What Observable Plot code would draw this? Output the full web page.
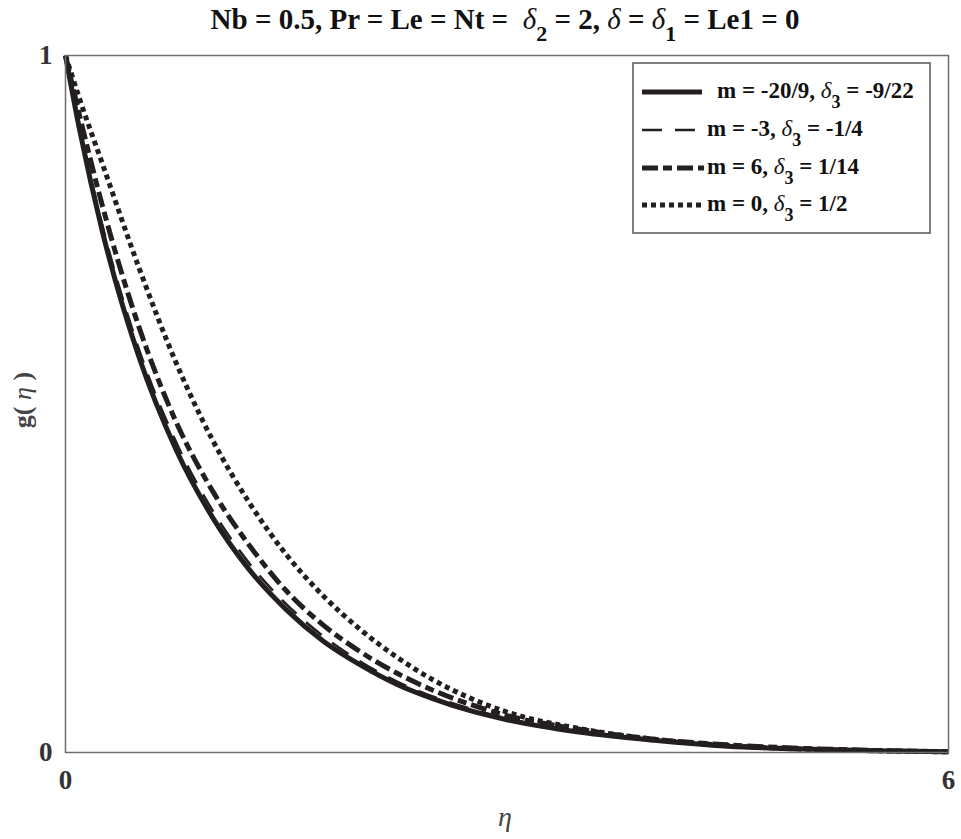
<!DOCTYPE html>
<html>
<head>
<meta charset="utf-8">
<script src="https://cdn.jsdelivr.net/npm/d3@7"></script>
<script src="https://cdn.jsdelivr.net/npm/@observablehq/plot@0.6"></script>
<style>
  html, body { margin: 0; padding: 0; background: #fff; }
  #chart svg { display: block; }
</style>
</head>
<body>
<div id="chart"></div>
<script>
// ---- data ----
const eta = [0, 0.1, 0.25, 0.5, 0.75, 1, 1.25, 1.5, 1.75, 2, 2.25, 2.5, 2.75, 3, 3.5, 4, 4.5, 5, 5.5, 6];
const gSolid   = [1, 0.889, 0.748, 0.567, 0.435, 0.337, 0.262, 0.205, 0.160, 0.126, 0.098, 0.077, 0.060, 0.047, 0.029, 0.0175, 0.009, 0.005, 0.0025, 0.001];
const gDashed  = [1, 0.893, 0.757, 0.578, 0.446, 0.347, 0.271, 0.213, 0.167, 0.131, 0.102, 0.080, 0.063, 0.049, 0.030, 0.018, 0.0095, 0.005, 0.0025, 0.001];
const gDashDot = [1, 0.910, 0.785, 0.610, 0.475, 0.375, 0.297, 0.232, 0.183, 0.145, 0.114, 0.089, 0.069, 0.053, 0.033, 0.019, 0.011, 0.006, 0.003, 0.001];
const gDotted  = [1, 0.935, 0.845, 0.695, 0.560, 0.448, 0.358, 0.284, 0.225, 0.177, 0.137, 0.104, 0.078, 0.058, 0.034, 0.019, 0.010, 0.005, 0.0025, 0.001];

const seriesNames = ["m = -20/9", "m = -3", "m = 6", "m = 0"];
const deltaLabels = ["-9/22", "-1/4", "1/14", "1/2"];
const seriesValues = [gSolid, gDashed, gDashDot, gDotted];
const xTicks = [0, 6];
const yTicks = [0, 1];

// styles per series
const dashes = [null, "20,13", "16,5,9,5", "5,4"];
const widths = [5, 2.5, 5, 5];
const ink = "#231f20";

const rows = seriesValues.map((vals, i) => eta.map((e, j) => ({eta: e, g: vals[j], s: i})));

const drawOrder = [3, 2, 0, 1];
const marks = drawOrder.map(i => Plot.line(rows[i], {
  x: "eta", y: "g", curve: "monotone-x",
  stroke: ink, strokeWidth: widths[i],
  strokeDasharray: dashes[i] || undefined,
  strokeLinecap: "butt", strokeLinejoin: "round"
}));

const svg = Plot.plot({
  width: 961,
  height: 839,
  marginLeft: 65,
  marginRight: 13,
  marginTop: 55,
  marginBottom: 87,
  style: {fontFamily: "'Liberation Serif', 'Times New Roman', serif", background: "#fff"},
  x: {domain: [0, 6]},
  y: {domain: [0, 1]},
  marks: [
    ...marks,
    Plot.frame({stroke: "#6d6d6d", strokeWidth: 1.5}),
    Plot.axisX({ticks: xTicks, tickSize: 0, tickPadding: 17, fontSize: 27, fontWeight: "bold", fill: "#333", label: null, tickFormat: d => String(d)}),
    Plot.axisY({ticks: yTicks, tickSize: 0, tickPadding: 13, fontSize: 27, fontWeight: "bold", fill: "#333", label: null, tickFormat: d => String(d)})
  ]
});

const root = d3.select(svg);
const font = "'Liberation Serif', 'Times New Roman', serif";

// Title
const title = root.append("text")
  .attr("x", 505).attr("y", 29)
  .attr("text-anchor", "middle")
  .attr("font-family", font).attr("font-weight", "bold").attr("font-size", 29)
  .attr("fill", "#111");
title.append("tspan").text("Nb = 0.5, Pr = Le = Nt =  ");
title.append("tspan").attr("font-style", "italic").attr("font-weight", "normal").text("δ");
title.append("tspan").attr("dy", 12).attr("font-size", 22).text("2");
title.append("tspan").attr("dy", -12).text(" = 2, ");
title.append("tspan").attr("font-style", "italic").attr("font-weight", "normal").text("δ");
title.append("tspan").text(" = ");
title.append("tspan").attr("font-style", "italic").attr("font-weight", "normal").text("δ");
title.append("tspan").attr("dy", 12).attr("font-size", 22).text("1");
title.append("tspan").attr("dy", -12).text(" = Le1 = 0");

// Axis labels
const yl = root.append("text")
  .attr("transform", "translate(31,400) rotate(-90)")
  .attr("text-anchor", "middle")
  .attr("font-family", font).attr("font-size", 26).attr("font-weight", "bold").attr("fill", "#444");
yl.append("tspan").text("g( ");
yl.append("tspan").attr("font-style", "italic").attr("font-weight", "normal").text("η");
yl.append("tspan").text(" )");

root.append("text")
  .attr("x", 505).attr("y", 826)
  .attr("text-anchor", "middle")
  .attr("font-family", font).attr("font-size", 28).attr("font-style", "italic").attr("fill", "#444")
  .text("η");

// Legend
const lg = root.append("g");
lg.append("rect").attr("x", 633).attr("y", 63).attr("width", 297).attr("height", 170)
  .attr("fill", "#fff").attr("stroke", "#555").attr("stroke-width", 1.5);
const rowY = [92, 130, 168, 205];
const textX = [717, 707, 707, 707];
const lineEnd = [702, 704, 704, 704];
seriesNames.forEach((name, i) => {
  lg.append("line")
    .attr("x1", 642).attr("x2", lineEnd[i]).attr("y1", rowY[i]).attr("y2", rowY[i])
    .attr("stroke", ink).attr("stroke-width", widths[i])
    .attr("stroke-dasharray", dashes[i] || null);
  const t = lg.append("text")
    .attr("x", textX[i]).attr("y", rowY[i] + 6)
    .attr("text-anchor", "start")
    .attr("font-family", font).attr("font-size", 23).attr("font-weight", "bold").attr("fill", "#111");
  t.append("tspan").text(name + ", ");
  t.append("tspan").attr("font-style", "italic").attr("font-weight", "normal").text("δ");
  t.append("tspan").attr("dy", 10).attr("font-size", 18).text("3");
  t.append("tspan").attr("dy", -10).text(" = " + deltaLabels[i]);
});

document.getElementById("chart").appendChild(svg);
</script>
</body>
</html>
